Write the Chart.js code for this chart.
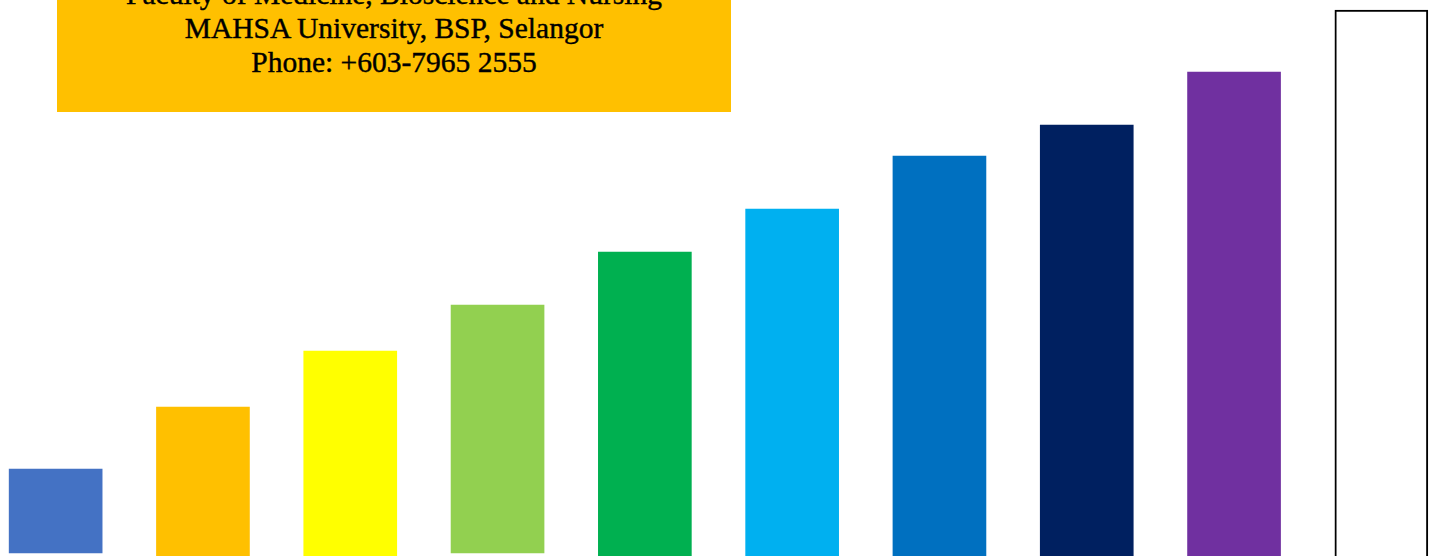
<!DOCTYPE html>
<html>
<head>
<meta charset="utf-8">
<script src="https://cdn.jsdelivr.net/npm/chart.js@4"></script>
<style>
  html, body { margin: 0; padding: 0; background: #fff; }
  #frame { position: relative; width: 1429px; height: 556px; overflow: hidden; }
  #wrap { position: absolute; left: -18px; top: 0; width: 1473px; height: 556px; }
  #info {
    position: absolute; left: 57px; top: 0; width: 674px; height: 112px;
    background: #FFC000; color: #000;
    font-family: "Liberation Serif", serif; font-size: 29.5px; line-height: 34px;
    text-align: center; -webkit-text-stroke: 0.4px #000;
  }
  #info div { position: relative; top: -23px; }
</style>
</head>
<body>
<div id="frame">
  <div id="wrap"><canvas id="bars"></canvas></div>
  <div id="info">
    <div>Faculty of Medicine, Bioscience and Nursing<br>MAHSA University, BSP, Selangor<br>Phone: +603-7965 2555</div>
  </div>
</div>
<script>
// stufen, von klein nach gross
const labels = ['1', '2', '3', '4', '5', '6', '7', '8', '9', '10'];
const lows = [3, 0, 0, 3, 0, 0, 0, 0, 0, -4];
const highs = [87, 149, 205, 251, 304, 347, 400, 431, 484, 546];
const colors = ['#4472C4', '#FFC000', '#FFFF00', '#92D050', '#00B050',
                '#00B0F0', '#0070C0', '#002060', '#7030A0', '#FFFFFF'];
const borders = [0, 0, 0, 0, 0, 0, 0, 0, 0, 2];

new Chart(document.getElementById('bars'), {
  type: 'bar',
  data: {
    labels: labels,
    datasets: [{
      data: labels.map((l, i) => [lows[i], highs[i]]),
      backgroundColor: colors,
      borderColor: '#000000',
      borderWidth: borders,
      borderSkipped: false,
      barThickness: 93,
      categoryPercentage: 1
    }]
  },
  options: {
    responsive: true,
    maintainAspectRatio: false,
    animation: false,
    layout: { padding: 0 },
    plugins: { legend: { display: false }, tooltip: { enabled: false } },
    scales: {
      x: { display: false, offset: true },
      y: { display: false, min: 0, max: 556 }
    }
  }
});
</script>
</body>
</html>
